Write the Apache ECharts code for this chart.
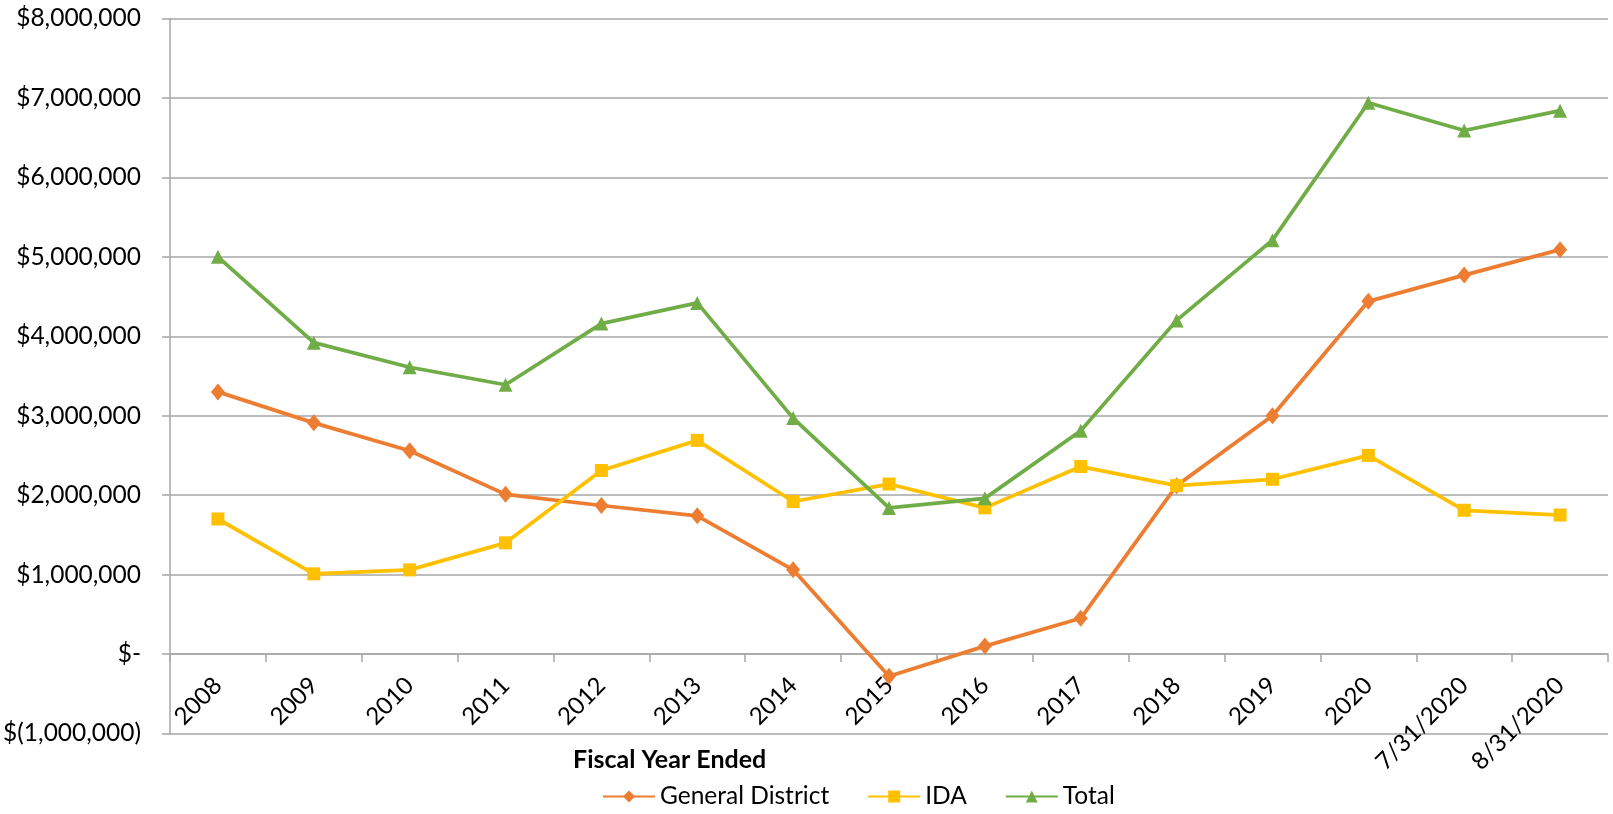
<!DOCTYPE html>
<html>
<head>
<meta charset="utf-8">
<script src="https://cdn.jsdelivr.net/npm/echarts@6/dist/echarts.min.js"></script>
<style>
  html, body { margin: 0; padding: 0; background: #fff; }
  #chart { width: 1613px; height: 814px; }
</style>
</head>
<body>
<div id="chart"></div>
<script>
var categories = ['2008', '2009', '2010', '2011', '2012', '2013', '2014', '2015',
  '2016', '2017', '2018', '2019', '2020', '7/31/2020', '8/31/2020'];

var generalDistrict = [3300000, 2910000, 2560000, 2010000, 1870000, 1740000, 1060000, -280000,
  100000, 450000, 2120000, 3000000, 4440000, 4770000, 5090000];

var ida = [1700000, 1010000, 1060000, 1400000, 2310000, 2690000, 1920000, 2140000,
  1840000, 2360000, 2120000, 2200000, 2500000, 1810000, 1750000];

var total = [5000000, 3920000, 3610000, 3390000, 4160000, 4420000, 2970000, 1840000,
  1960000, 2810000, 4200000, 5210000, 6940000, 6590000, 6840000];

var font = 'Lato, "Open Sans", sans-serif';

// accounting style: $1,000,000 / $- / $(1,000,000)
function money(v) {
  if (v === 0) return '$-';
  var s = Math.abs(v).toLocaleString('en-US');
  return v < 0 ? '$(' + s + ')' : '$' + s;
}

var option = {
  animation: false,
  textStyle: { fontFamily: font },
  grid: {
    left: 170,
    right: 5,
    top: 18.5,
    bottom: 80.5
  },
  graphic: [
    {
      type: 'text',
      left: 573,
      top: 747,
      style: {
        text: 'Fiscal Year Ended',
        fontFamily: font,
        fontWeight: 'bold',
        fontSize: 25,
        fill: '#000'
      }
    }
  ],
  legend: {
    bottom: 0,
    left: 597,
    itemWidth: 52,
    itemHeight: 15,
    itemGap: 38,
    textStyle: { fontFamily: font, fontSize: 24.5, color: '#000' },
    data: ['General District', 'IDA', 'Total']
  },
  xAxis: {
    type: 'category',
    data: categories,
    boundaryGap: true,
    axisLine: { onZero: true, lineStyle: { color: '#a6a6a6', width: 1.5 } },
    axisTick: { show: true, length: 8, lineStyle: { color: '#a6a6a6', width: 1.5 } },
    axisLabel: {
      rotate: 45,
      margin: -52,
      fontSize: 24,
      fontFamily: font,
      color: '#000',
      interval: 0
    }
  },
  yAxis: {
    type: 'value',
    min: -1000000,
    max: 8000000,
    interval: 1000000,
    axisLine: { show: true, lineStyle: { color: '#a6a6a6', width: 1.5 } },
    axisTick: { show: true, length: 8, lineStyle: { color: '#a6a6a6', width: 1.5 } },
    splitLine: { show: true, lineStyle: { color: '#a6a6a6', width: 1.5 } },
    axisLabel: {
      margin: 29,
      fontSize: 24.5,
      fontFamily: font,
      color: '#000',
      formatter: money
    }
  },
  series: [
    {
      name: 'General District',
      type: 'line',
      data: generalDistrict,
      color: '#ED7D31',
      symbol: 'diamond',
      symbolSize: [14, 17],
      lineStyle: { width: 3.75 }
    },
    {
      name: 'IDA',
      type: 'line',
      data: ida,
      color: '#FFC000',
      symbol: 'rect',
      symbolSize: 13,
      lineStyle: { width: 3.75 }
    },
    {
      name: 'Total',
      type: 'line',
      data: total,
      color: '#70AD47',
      symbol: 'triangle',
      symbolSize: 14,
      lineStyle: { width: 3.75 }
    }
  ]
};

var chart = echarts.init(document.getElementById('chart'));
chart.setOption(option);
</script>
</body>
</html>
